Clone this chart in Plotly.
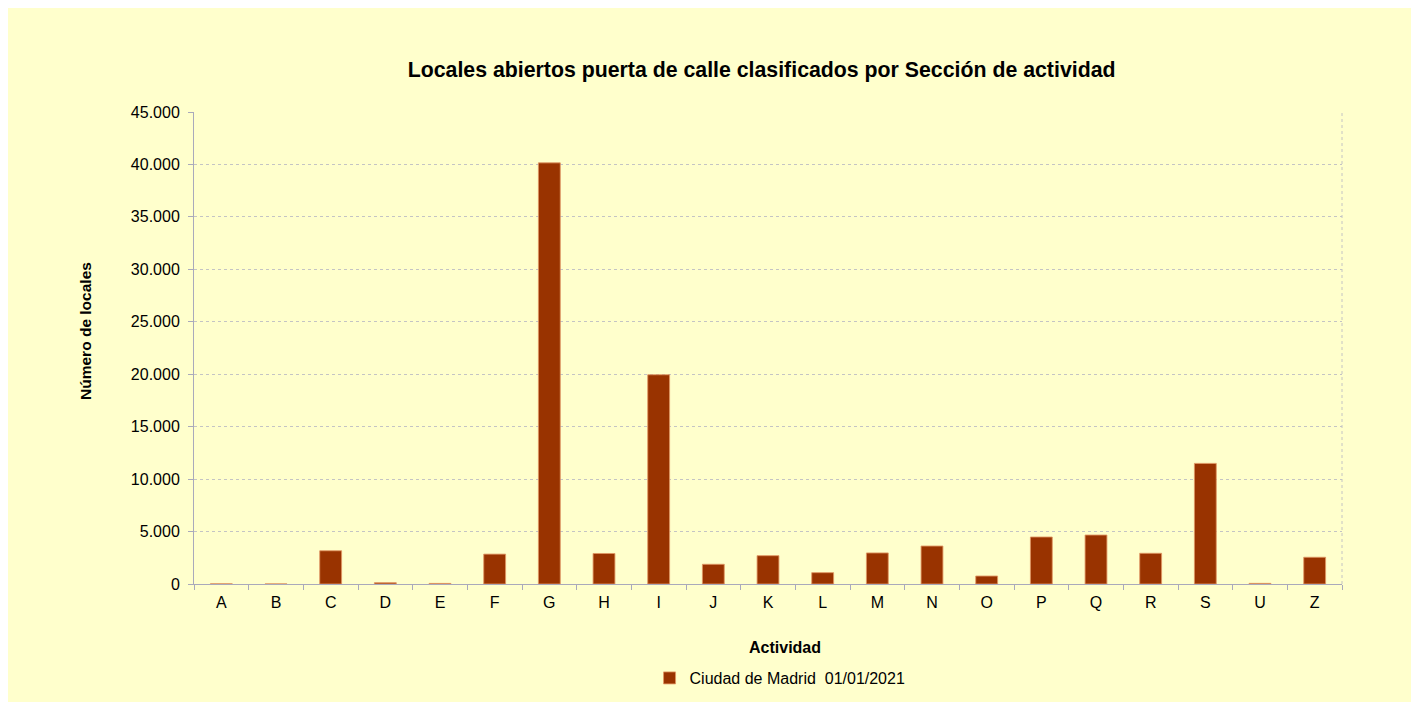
import plotly.graph_objects as go

categories = ["A", "B", "C", "D", "E", "F", "G", "H", "I", "J", "K",
              "L", "M", "N", "O", "P", "Q", "R", "S", "U", "Z"]
locales = [20, 10, 3170, 125, 55, 2850, 40150, 2910, 19950, 1880, 2700,
           1080, 2960, 3620, 760, 4480, 4670, 2930, 11500, 60, 2550]
series_name = "Ciudad de Madrid  01/01/2021"
y_ticks = list(range(0, 45001, 5000))

BG = "#ffffcc"
BAR = "#993300"
AXIS = "#a9a9bb"
GRID = "#c4c4c4"
FONT = "Liberation Sans, Arial, sans-serif"

fig = go.Figure()

fig.add_trace(
    go.Bar(
        x=categories,
        y=locales,
        name=series_name,
        marker=dict(
            color=BAR,
            line=dict(color="rgba(225,150,100,0.85)", width=1),
        ),
        showlegend=True,
    )
)

fig.update_layout(
    width=1406,
    height=694,
    paper_bgcolor=BG,
    plot_bgcolor=BG,
    margin=dict(l=186, r=72, t=104, b=118, autoexpand=False),
    separators=",.",
    font=dict(family=FONT, size=16, color="#000000"),
    bargap=0.6,
    title=dict(
        text="<b>Locales abiertos puerta de calle clasificados por Sección de actividad</b>",
        font=dict(size=21.3, family=FONT),
        x=0.536,
        xref="container",
        xanchor="center",
        y=1 - 62 / 694,
        yref="container",
        yanchor="middle",
    ),
    showlegend=True,
    legend=dict(
        orientation="h",
        x=0.5105,
        xanchor="center",
        xref="paper",
        y=1 - 670 / 694,
        yref="container",
        yanchor="middle",
        font=dict(size=16, family=FONT),
        bgcolor="rgba(0,0,0,0)",
        itemwidth=30,
    ),
)

fig.update_xaxes(
    type="category",
    showline=True,
    linecolor=AXIS,
    linewidth=1,
    ticks="outside",
    tickson="boundaries",
    ticklen=5,
    tickcolor=AXIS,
    showgrid=False,
    ticklabelstandoff=4,
    tickfont=dict(size=16, family=FONT),
)

fig.update_yaxes(
    range=[0, 45000],
    tickvals=y_ticks,
    tickformat=",d",
    showline=True,
    linecolor=AXIS,
    linewidth=1,
    ticks="outside",
    ticklen=5,
    tickcolor=AXIS,
    showgrid=True,
    gridcolor=GRID,
    griddash="dot",
    gridwidth=1,
    zeroline=False,
    ticklabelstandoff=5,
    tickfont=dict(size=16, family=FONT),
)

# dashed right border of the plot area
fig.add_shape(
    type="line",
    xref="paper",
    yref="paper",
    x0=1,
    x1=1,
    y0=0,
    y1=1,
    line=dict(color=GRID, width=1, dash="dot"),
)

fig.add_annotation(
    text="<b>Número de locales</b>",
    xref="paper",
    yref="paper",
    x=-0.095,
    y=0.536,
    textangle=-90,
    showarrow=False,
    xanchor="center",
    yanchor="middle",
    font=dict(size=15.5, family=FONT),
)

fig.add_annotation(
    text="<b>Actividad</b>",
    xref="paper",
    yref="paper",
    x=0.515,
    y=-0.1335,
    showarrow=False,
    xanchor="center",
    yanchor="middle",
    font=dict(size=16, family=FONT),
)

fig.write_html("out.html")
